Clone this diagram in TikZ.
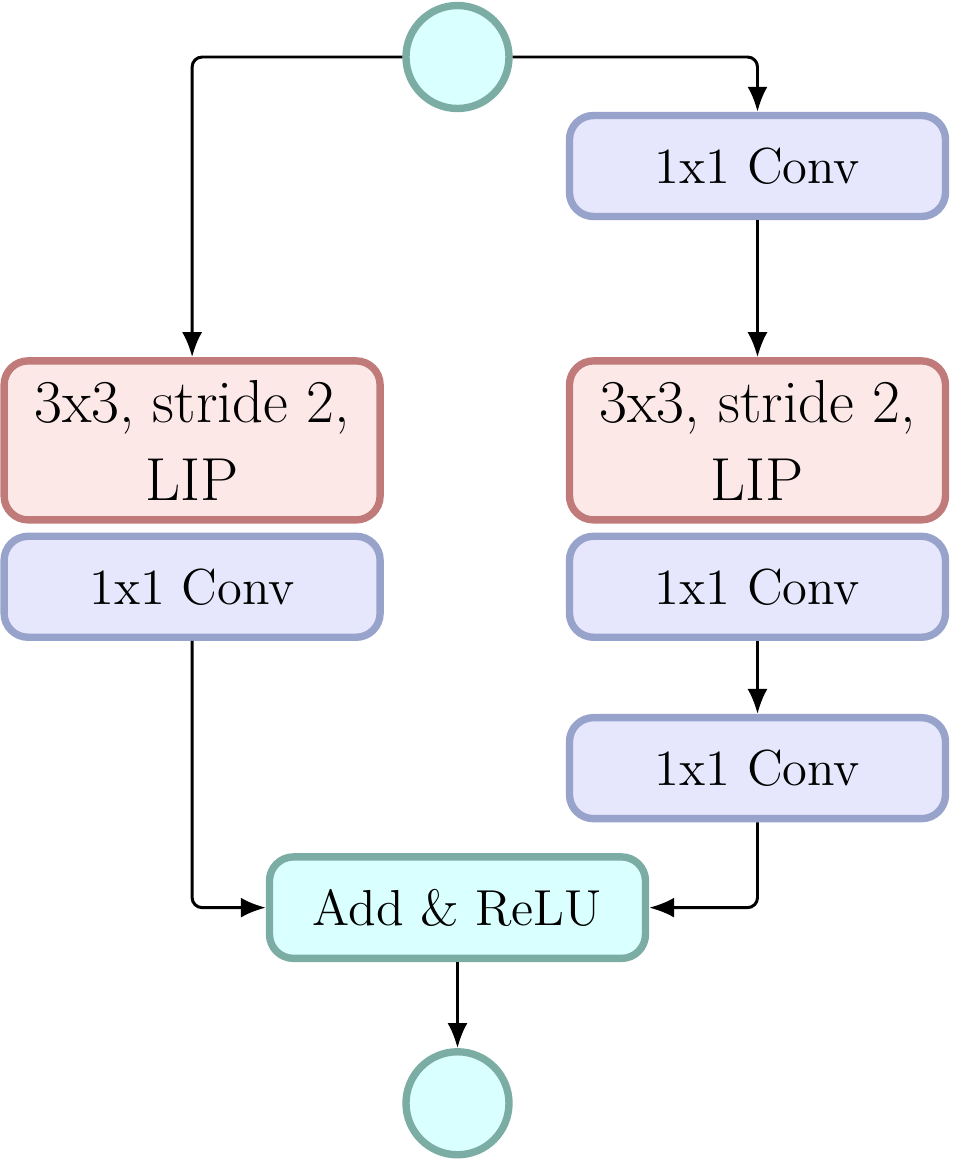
\documentclass[tikz,border=0pt]{standalone}
\usepackage{tikz}
\usetikzlibrary{positioning,arrows.meta}
\usepackage{xcolor}
\definecolor{tealfill}{HTML}{DAFFFF}
\definecolor{tealline}{HTML}{7BADA5}
\definecolor{redfill}{HTML}{FDE8E8}
\definecolor{redline}{HTML}{C07A7A}
\definecolor{bluefill}{HTML}{E6E6FC}
\definecolor{blueline}{HTML}{97A3CA}
\tikzset{
  io/.style={circle,draw=tealline,fill=tealfill,line width=2.1pt,minimum size=10.3mm,inner sep=0pt},
  convbox/.style={rectangle,rounded corners=2.4mm,draw=blueline,fill=bluefill,line width=2.1pt,minimum width=37.6mm,minimum height=10.1mm,font=\Large},
  lipbox/.style={rectangle,rounded corners=2.4mm,draw=redline,fill=redfill,line width=2.1pt,minimum width=37.6mm,minimum height=15.9mm,align=center,font=\LARGE},
  addbox/.style={rectangle,rounded corners=2.4mm,draw=tealline,fill=tealfill,line width=2.1pt,minimum width=37.6mm,minimum height=10.15mm,font=\Large},
  edge/.style={-{Latex[length=2.5mm,width=2mm]},line width=0.85pt,rounded corners=1mm}
}
\begin{document}
\begin{tikzpicture}
\useasboundingbox (-4.575,0.57) rectangle (4.945,-11.03);
\node[io] (in) at (0,0) {};
\node[convbox] (rc1) at (3.0,-1.09) {1x1 Conv};
\node[lipbox,below=1.37cm of rc1] (rlip) {3x3, stride 2,\\LIP};
\node[lipbox,left=1.82cm of rlip] (llip) {3x3, stride 2,\\LIP};
\node[convbox,below=0.09cm of llip] (lc) {1x1 Conv};
\node[convbox,below=0.09cm of rlip] (rc2) {1x1 Conv};
\node[convbox,below=0.73cm of rc2] (rc3) {1x1 Conv};
\node[addbox,below=7.41cm of in] (add) {Add \& ReLU};
\node[io,below=0.86cm of add] (out) {};
\draw[edge] (in.west) -| (llip.north);
\draw[edge] (in.east) -| (rc1.north);
\draw[edge] (rc1) -- (rlip);
\draw[edge] (rc2) -- (rc3);
\draw[edge] (lc.south) |- (add.west);
\draw[edge] (rc3.south) |- (add.east);
\draw[edge] (add) -- (out);
\end{tikzpicture}
\end{document}
